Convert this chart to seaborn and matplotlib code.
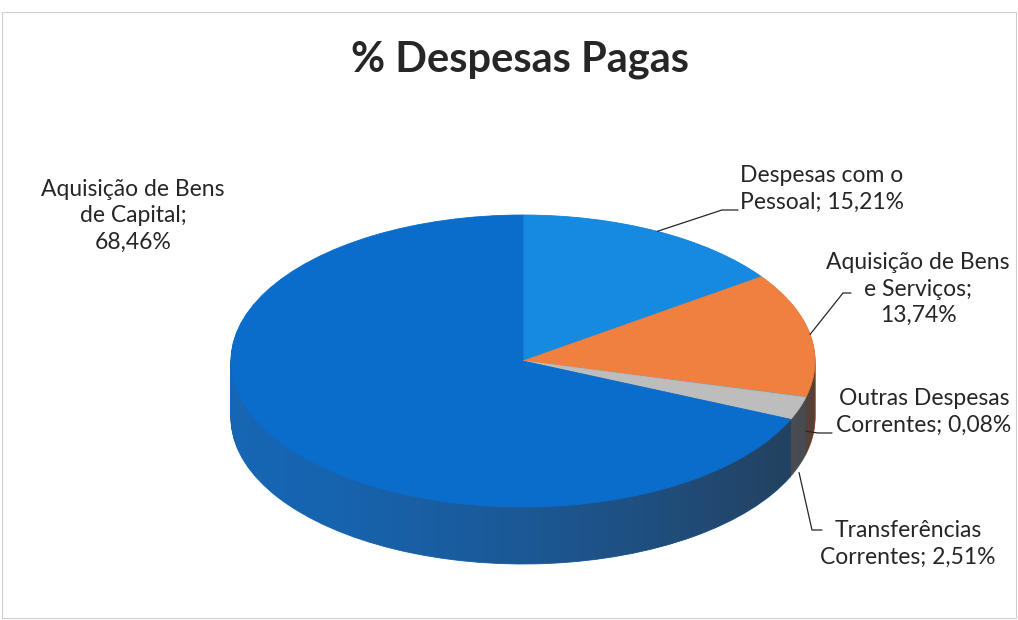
"""% Despesas Pagas - 3D style pie chart."""

import numpy as np
import matplotlib
matplotlib.use('Agg')
import matplotlib.pyplot as plt
from matplotlib.path import Path
from matplotlib.patches import PathPatch
import seaborn as sns

categorias = [
    'Despesas com o Pessoal',
    'Aquisição de Bens e Serviços',
    'Outras Despesas Correntes',
    'Transferências Correntes',
    'Aquisição de Bens de Capital',
]
percentagens = [15.21, 13.74, 0.08, 2.51, 68.46]
rotulos = [
    'Despesas com o\nPessoal; 15,21%',
    'Aquisição de Bens\ne Serviços;\n13,74%',
    'Outras Despesas\nCorrentes; 0,08%',
    'Transferências\nCorrentes; 2,51%',
    'Aquisição de Bens\nde Capital;\n68,46%',
]
titulo = '% Despesas Pagas'

cores_topo = ['#1689E0', '#F0803F', '#9A9A9A', '#BDBDBD', '#0A6DCB']
cores_lado = ['#1470BE', '#C0693A', '#707070', '#8A8A8A', '#1666B4']

W, H = 1018, 620
CX, CY, RX, RY, DEPTH = 523, 361, 292, 146, 57

sns.set_theme(style='white')
plt.rcParams['font.family'] = ['Lato', 'DejaVu Sans']

fig = plt.figure(figsize=(W / 100, H / 100), dpi=100)
fig.patch.set_facecolor('white')

ax = fig.add_axes([0, 0, 1, 1])


def desenha_pie(center, cores, z):
    wedges, _ = ax.pie(
        percentagens, colors=cores, startangle=90, counterclock=False,
        radius=1, center=center, frame=True,
        wedgeprops=dict(linewidth=0.6, zorder=z),
    )
    for w, c in zip(wedges, cores):
        w.set_edgecolor(c)
    return wedges


# lateral (camadas empilhadas)
d = DEPTH / RY
for k in range(DEPTH, 0, -1):
    desenha_pie((0, -k / RY), cores_lado, 1)

# sombreamento da lateral, mais escuro para a direita
t1 = np.linspace(0, np.pi, 100)
t2 = np.linspace(np.pi, 2 * np.pi, 100)
contorno = np.vstack([
    np.column_stack([np.cos(t1), np.sin(t1)]),
    np.column_stack([np.cos(t2), np.sin(t2) - d]),
])
clip = PathPatch(Path(contorno, closed=True), transform=ax.transData,
                 facecolor='none', edgecolor='none')
ax.add_patch(clip)
rampa = np.linspace(0, 1, 256)
sombra = np.zeros((1, 256, 4))
sombra[0, :, :3] = (0.17, 0.19, 0.22)
sombra[0, :, 3] = 0.72 * rampa ** 1.5
img = ax.imshow(sombra, extent=(-1, 1, -1 - d, 1), aspect='auto',
                zorder=2, interpolation='bilinear')
img.set_clip_path(clip)

# topo
desenha_pie((0, 0), cores_topo, 3)
ax.set_aspect('auto')
ax.set_xlim(-CX / RX, (W - CX) / RX)
ax.set_ylim(-(H - CY) / RY, CY / RY)
ax.axis('off')

# camada de textos em pixels
ov = fig.add_axes([0, 0, 1, 1], facecolor='none')
ov.set_xlim(0, W)
ov.set_ylim(H, 0)
ov.axis('off')

ov.text(520, 60, titulo, ha='center', va='center', fontsize=30,
        fontweight='bold', color='#262626')

# ponto médio de cada fatia na borda da elipse
acum = np.cumsum(percentagens) - np.array(percentagens) / 2
angulos = np.deg2rad(acum / 100 * 360)
bordas = [(CX + RX * np.sin(a), CY - RY * np.cos(a)) for a in angulos]

texto_pos = [(822, 189), (918, 289), (924, 412), (908, 544), (133, 216)]
cotovelos = [
    [(722, 210), (738, 210)],
    [(843, 293), (851, 293)],
    [(818, 433), (832, 433)],
    [(812, 530), (822, 530)],
    None,
]
quedas = [0, 0, 34, 64, 0]

for rot, (tx, ty), cot, (bx, by), q in zip(rotulos, texto_pos, cotovelos,
                                         bordas, quedas):
    ov.text(tx, ty, rot, ha='center', va='center', fontsize=16.5,
            color='#262626', linespacing=1.3)
    if cot is not None:
        xs = [bx] + [p[0] for p in cot]
        ys = [by + q] + [p[1] for p in cot]
        ov.plot(xs, ys, color='#262626', lw=0.9)

# moldura leve
ov.plot([2, W - 2, W - 2, 2, 2], [12, 12, H - 2, H - 2, 12],
        color='#D0D0D0', lw=0.8)

fig.savefig('out.png', dpi=100, facecolor='white')
